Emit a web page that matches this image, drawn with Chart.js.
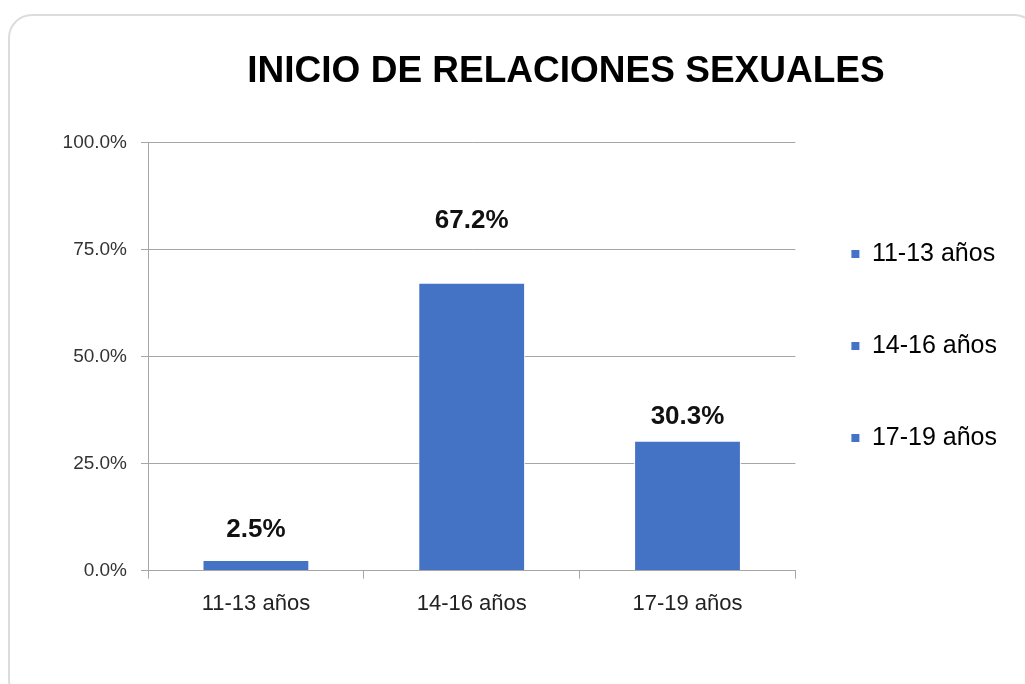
<!DOCTYPE html>
<html lang="es">
<head>
<meta charset="UTF-8">
<title>Inicio de relaciones sexuales</title>
<script src="https://cdn.jsdelivr.net/npm/chart.js"></script>
<style>
    html, body {
        margin: 0;
        padding: 0;
        background: #fff;
        overflow: hidden;
    }
    #frame {
        position: absolute;
        left: 8px;
        top: 14px;
        width: 1030px;
        height: 690px;
        border: 2px solid #dcdcdc;
        border-radius: 24px;
        box-sizing: border-box;
    }
    #wrap {
        position: absolute;
        left: 0;
        top: 0;
        width: 1025px;
        height: 684px;
    }
</style>
</head>
<body>
<div id="frame"></div>
<div id="wrap"><canvas id="chart"></canvas></div>

<script>
    const categories = ['11-13 años', '14-16 años', '17-19 años'];
    const porcentajes = [2.5, 67.2, 30.3];
    const yTicks = [0, 25, 50, 75, 100];
    // how far above its bar each value label sits (pixels, label centre)
    const labelLift = [30, 62, 24];

    const BLUE = '#4472C4';
    const SANS = "'Liberation Sans', Arial, sans-serif";

    const valueLabels = {
        id: 'valueLabels',
        afterDatasetsDraw(chart) {
            const ctx = chart.ctx;
            const meta = chart.getDatasetMeta(0);
            ctx.save();
            ctx.font = 'bold 26px ' + SANS;
            ctx.fillStyle = '#111';
            ctx.textAlign = 'center';
            ctx.textBaseline = 'middle';
            meta.data.forEach((bar, i) => {
                ctx.fillText(porcentajes[i].toFixed(1) + '%', bar.x, bar.y - labelLift[i]);
            });
            ctx.restore();
        }
    };

    // the title sits over the plot+legend block, the legend a bit lower
    const nudge = {
        id: 'nudge',
        afterLayout(chart) {
            chart.titleBlock.left = 107;
            chart.titleBlock.right = chart.width;
            chart.legend.top += 37;
            chart.legend.bottom += 37;
        }
    };

    new Chart(document.getElementById('chart'), {
        type: 'bar',
        data: {
            labels: categories,
            datasets: [{
                data: porcentajes,
                backgroundColor: BLUE,
                borderColor: '#fff',
                borderWidth: 1,
                categoryPercentage: 1,
                barPercentage: 0.495
            }]
        },
        options: {
            responsive: true,
            maintainAspectRatio: false,
            animation: false,
            layout: { padding: { left: 20, right: 18, top: 0, bottom: 55 } },
            plugins: {
                title: {
                    display: true,
                    text: 'INICIO DE RELACIONES SEXUALES',
                    color: '#000',
                    font: { family: SANS, size: 37, weight: 'bold' },
                    padding: { top: 50, bottom: 48 }
                },
                legend: {
                    position: 'right',
                    labels: {
                        color: '#222',
                        font: { family: SANS, size: 25, lineHeight: 36 / 25 },
                        boxWidth: 8,
                        boxHeight: 8,
                        padding: 56,
                        generateLabels: () => categories.map((c, i) => ({
                            text: [c],
                            fillStyle: BLUE,
                            strokeStyle: BLUE,
                            lineWidth: 0,
                            index: i
                        }))
                    }
                },
                tooltip: { enabled: false }
            },
            scales: {
                x: {
                    grid: {
                        offset: true,
                        drawOnChartArea: false,
                        drawTicks: true,
                        tickLength: 8,
                        color: '#a6a6a6'
                    },
                    border: { color: '#a6a6a6' },
                    ticks: {
                        color: '#222',
                        padding: 12,
                        font: { family: SANS, size: 22 }
                    }
                },
                y: {
                    min: 0,
                    max: 100,
                    afterFit(scale) { scale.width = 128; },
                    afterBuildTicks(scale) { scale.ticks = yTicks.map(v => ({ value: v })); },
                    grid: {
                        color: '#a6a6a6',
                        tickLength: 7
                    },
                    border: { color: '#a6a6a6' },
                    ticks: {
                        color: '#333',
                        padding: 14,
                        font: { family: SANS, size: 19 },
                        callback: v => v.toFixed(1) + '%'
                    }
                }
            }
        },
        plugins: [valueLabels, nudge]
    });
</script>
</body>
</html>
